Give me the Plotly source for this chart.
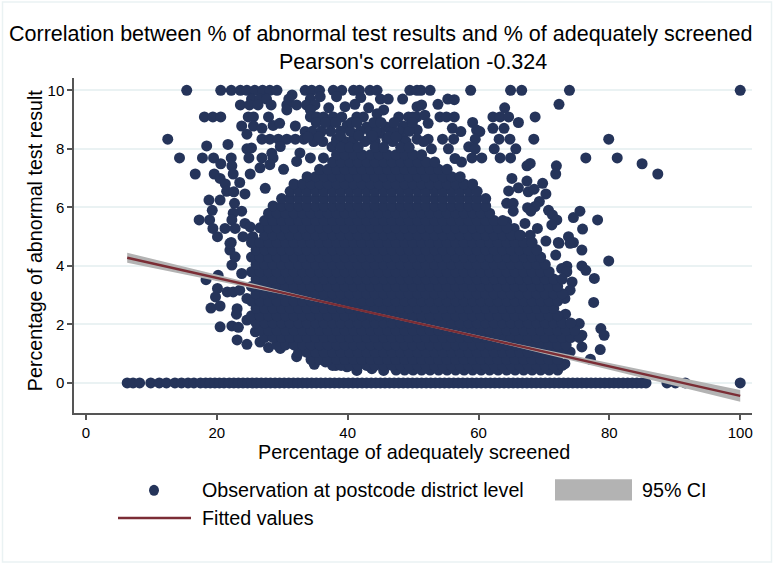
import plotly.graph_objects as go

# Points (x = % adequately screened)
zero_x = [6.3,7.2,8.2,9.9,11.2,12.3,13.6,14.6,15.6,16.5,17.5,18.3,19.0,19.7,20.4,21.1,21.9,22.6,23.3,24.0,24.7,25.4,26.1,26.8,27.5,28.2,28.9,29.6,30.3,31.0,31.7,32.4,33.1,33.8,34.5,35.2,35.9,36.6,37.3,38.0,38.7,39.4,40.1,40.8,41.5,42.2,42.9,43.6,44.3,45.0,45.7,46.4,47.1,47.8,48.5,49.2,49.9,50.6,51.3,52.0,52.7,53.4,54.1,54.8,55.5,56.2,56.9,57.6,58.3,59.0,59.7,60.4,61.1,61.8,62.5,63.2,63.9,64.6,65.3,66.0,66.7,67.4,68.1,68.8,69.5,70.2,70.9,71.6,72.3,73.0,73.7,74.4,75.1,75.8,76.5,77.2,77.9,78.6,79.3,80.0,80.7,81.4,82.1,82.8,83.5,84.2,84.9,85.6,88.8,90.1,91.6,100.0]
top_x = [15.4,20.6,22.2,23.6,24.6,25.8,27.0,28.1,29.2,33.5,34.5,35.7,37.8,39.1,40.9,41.8,43.4,44.5,49.5,50.6,51.2,52.6,58.8,64.9,66.6,73.9,100.0]

sparse_x = [12.5,18.1,19.4,20.6,18.45,21.7,14.3,17.8,19.5,22.2,20.6,16.7,19.6,22.3,22.5,25.1,20.5,21.3,23.5,21.5,22.6,24.3,18.8,20.5,22.7,19.3,23.8,22.5,17.3,18.9,22.3,19.4,21.25,22.8,24.3,25.1,20.1,22.2,24.0,25.5,
 31.5,31.0,25.3,26.6,27.6,34.3,35.8,38.3,42.0,45.0,46.2,48.4,23.6,25.0,26.3,28.3,30.7,32.2,33.7,35.0,39.6,41.1,30.7,37.1,34.3,43.2,45.5,44.5,
 24.8,25.6,27.9,34.3,35.3,36.3,37.8,39.1,41.4,42.4,47.8,49.3,50.6,23.8,25.6,26.9,28.6,29.6,32.0,33.5,37.3,39.9,42.9,45.9,48.5,24.6,45.0,48.0,50.6,
 26.9,28.1,29.4,30.7,32.0,33.3,35.3,38.3,40.9,43.4,46.0,48.5,50.6,24.6,25.3,29.7,28.4,32.7,37.6,38.3,24.9,26.9,28.6,34.3,36.3,26.6,28.1,30.2,32.2,27.4,
 53.8,55.3,56.3,72.3,50.6,51.3,64.0,68.65,54.1,55.1,56.3,62.2,63.3,64.6,50.0,51.8,66.1,59.1,52.3,62.2,63.9,56.0,57.3,59.7,60.2,63.15,64.8,68.45,79.9,54.5,56.2,59.5,50.6,52.3,
 62.4,65.7,55.4,58.5,59.5,63.3,64.9,76.4,81.2,59.0,60.5,56.4,57.4,85.0,87.4,67.4,67.9,71.9,71.8,65.1,67.4,69.8,64.6,66.1,67.6,68.5,70.3,64.3,65.3,69.3,68.65,65.3,67.5,68.0,70.7,75.5,74.5,71.3,71.97,71.2,78.2,75.9,67.1,65.45,69.0,73.75,72.2,70.3,74.5,67.9,66.4,64.3,
 79.9,75.8,74.0,72.3,71.8,75.8,76.4,77.7,73.5,72.7,73.5,74.3,74.0,73.2,77.6,73.3,75.4,78.7,79.2,75.8,75.8,78.6,77.1,74.0,73.2,
 20.2,18.35,20.1,19.8,19.1,20.5,21.6,22.5,23.5,22.3,22.0,22.0,22.8,23.8,20.5,22.3,23.3,23.1,24.6,23.1,23.0,24.6,24.6,25.9,26.6,27.9,29.7,32.2,34.9,36.6,38.2,39.9,41.4,43.7,45.5,
 34.6,36.0,37.4,38.9,40.4,41.9,43.4,44.4,46.6,47.0,49.4,35.2,36.6,38.2,40.6,41.4,44.0,45.1,47.1,49.9,34.8,36.2,39.6,40.8,42.6,44.2,46.9,48.9,51.6,33.9,35.6,38.9,41.7,43.8,46.3,47.4,52.8]
sparse_y = [8.33,9.09,9.09,9.09,8.1,8.15,7.69,7.69,7.69,7.69,7.49,7.14,7.14,7.42,7.14,7.14,6.99,6.8,6.85,6.55,6.53,6.46,6.25,6.25,6.14,5.9,5.87,5.8,5.57,5.57,5.57,5.28,5.28,5.28,5.45,5.33,5.0,4.8,5.0,5.0,
 9.84,9.7,9.7,9.7,9.7,9.7,9.78,9.78,9.75,9.7,9.7,9.7,9.5,9.5,9.5,9.5,9.5,9.5,9.5,9.5,9.44,9.52,9.33,9.4,9.33,9.4,9.33,9.2,
 9.09,9.09,9.09,9.09,9.09,9.09,9.09,9.09,9.09,9.09,9.09,9.09,9.09,8.78,8.78,8.7,8.8,8.87,8.78,8.59,8.9,8.8,8.75,8.75,8.78,8.5,8.53,8.58,8.64,
 8.33,8.33,8.33,8.33,8.33,8.33,8.33,8.33,8.33,8.33,8.33,8.33,8.33,8.0,8.03,8.08,7.85,7.86,8.07,8.24,7.69,7.69,7.69,7.69,7.69,7.35,7.46,7.3,7.57,6.65,
 9.52,9.7,9.68,9.52,9.44,9.5,9.4,9.09,9.09,9.09,9.09,9.09,9.09,9.09,9.09,9.15,8.9,8.9,8.87,8.7,8.7,8.7,8.59,8.64,8.59,8.33,8.33,8.33,8.33,8.33,8.33,8.33,8.64,8.33,
 8.0,8.0,8.0,8.07,8.0,7.69,7.69,7.69,7.69,7.69,7.69,7.67,7.55,7.49,7.14,7.42,7.5,7.42,7.14,6.99,6.9,6.82,6.56,6.67,6.53,6.62,6.46,6.14,6.14,6.2,6.03,5.87,5.99,5.87,5.9,5.87,5.65,5.74,5.57,5.4,5.57,5.26,5.45,5.28,5.28,5.0,4.8,4.85,4.8,5.05,5.05,5.5,
 4.17,4.54,4.77,4.77,4.37,4.0,3.85,3.57,3.99,3.91,3.8,3.45,3.17,2.89,2.75,2.35,2.03,1.86,1.63,1.63,1.23,1.14,0.81,1.06,0.66,
 3.68,3.53,3.23,2.94,2.56,2.63,3.11,3.11,3.17,4.03,4.54,4.77,4.31,3.74,1.92,1.95,1.9,1.47,1.32,2.54,2.35,2.15,2.89,1.75,1.4,1.21,1.18,0.9,0.64,0.72,0.6,0.55,0.43,0.49,0.43,
 8.6,8.6,8.6,8.6,8.6,8.6,8.6,8.6,8.6,8.6,8.6,8.9,8.9,8.9,8.9,8.9,8.9,8.9,8.9,8.9,8.25,8.25,8.25,8.25,8.25,8.25,8.25,8.25,8.25,8.4,8.4,8.45,8.45,8.45,8.4,8.4,8.0]

# Dense cloud, one list per abnormal-result level
cloud_044 = [47.4,48.7,50.0,51.3,52.6,53.9,55.2,56.5,57.8,59.1,60.4,61.7,63.0,64.3,65.6,66.9,68.2,69.5,70.8,72.1]
cloud_060 = [37.7,39.0,40.3,41.6,42.9,44.2,45.5,46.8,48.1,49.4,50.7,52.0,53.3,54.6,55.9,57.2,58.5,59.8,61.1,62.4,63.7,65.0,66.3,67.6,68.9,70.2,71.5,72.8]
cloud_080 = [34.4,35.7,37.0,38.3,39.6,40.9,42.2,43.5,44.8,46.1,47.4,48.7,50.0,51.3,52.6,53.9,55.2,56.5,57.8,59.1,60.4,61.7,63.0,64.3,65.6,66.9,68.2,69.5,70.8,72.1]
cloud_105 = [32.5,33.8,35.1,36.4,37.7,39.0,40.3,41.6,42.9,44.2,45.5,46.8,48.1,49.4,50.7,52.0,53.3,54.6,55.9,57.2,58.5,59.8,61.1,62.4,63.7,65.0,66.3,67.6,68.9,70.2,71.5,72.8]
cloud_130 = [29.2,30.5,31.8,33.1,34.4,35.7,37.0,38.3,39.6,40.9,42.2,43.5,44.8,46.1,47.4,48.7,50.0,51.3,52.6,53.9,55.2,56.5,57.8,59.1,60.4,61.7,63.0,64.3,65.6,66.9,68.2,69.5,70.8,72.1,73.4]
cloud_155 = [27.3,28.6,29.9,31.2,32.5,33.8,35.1,36.4,37.7,39.0,40.3,41.6,42.9,44.2,45.5,46.8,48.1,49.4,50.7,52.0,53.3,54.6,55.9,57.2,58.5,59.8,61.1,62.4,63.7,65.0,66.3,67.6,68.9,70.2,71.5,72.8,74.1,75.4]
cloud_180 = [26.6,27.9,29.2,30.5,31.8,33.1,34.4,35.7,37.0,38.3,39.6,40.9,42.2,43.5,44.8,46.1,47.4,48.7,50.0,51.3,52.6,53.9,55.2,56.5,57.8,59.1,60.4,61.7,63.0,64.3,65.6,66.9,68.2,69.5,70.8,72.1,73.4,74.7]
cloud_205 = [26.0,27.3,28.6,29.9,31.2,32.5,33.8,35.1,36.4,37.7,39.0,40.3,41.6,42.9,44.2,45.5,46.8,48.1,49.4,50.7,52.0,53.3,54.6,55.9,57.2,58.5,59.8,61.1,62.4,63.7,65.0,66.3,67.6,68.9,70.2,71.5,72.8,74.1]
cloud_230 = [25.3,26.6,27.9,29.2,30.5,31.8,33.1,34.4,35.7,37.0,38.3,39.6,40.9,42.2,43.5,44.8,46.1,47.4,48.7,50.0,51.3,52.6,53.9,55.2,56.5,57.8,59.1,60.4,61.7,63.0,64.3,65.6,66.9,68.2,69.5,70.8,72.1]
cloud_255 = [26.0,27.3,28.6,29.9,31.2,32.5,33.8,35.1,36.4,37.7,39.0,40.3,41.6,42.9,44.2,45.5,46.8,48.1,49.4,50.7,52.0,53.3,54.6,55.9,57.2,58.5,59.8,61.1,62.4,63.7,65.0,66.3,67.6,68.9,70.2,71.5]
cloud_280 = [25.3,26.6,27.9,29.2,30.5,31.8,33.1,34.4,35.7,37.0,38.3,39.6,40.9,42.2,43.5,44.8,46.1,47.4,48.7,50.0,51.3,52.6,53.9,55.2,56.5,57.8,59.1,60.4,61.7,63.0,64.3,65.6,66.9,68.2,69.5,70.8,72.1]
cloud_305 = [26.0,27.3,28.6,29.9,31.2,32.5,33.8,35.1,36.4,37.7,39.0,40.3,41.6,42.9,44.2,45.5,46.8,48.1,49.4,50.7,52.0,53.3,54.6,55.9,57.2,58.5,59.8,61.1,62.4,63.7,65.0,66.3,67.6,68.9,70.2,71.5,72.8]
cloud_330 = [25.3,26.6,27.9,29.2,30.5,31.8,33.1,34.4,35.7,37.0,38.3,39.6,40.9,42.2,43.5,44.8,46.1,47.4,48.7,50.0,51.3,52.6,53.9,55.2,56.5,57.8,59.1,60.4,61.7,63.0,64.3,65.6,66.9,68.2,69.5,70.8,72.1]
cloud_355 = [26.0,27.3,28.6,29.9,31.2,32.5,33.8,35.1,36.4,37.7,39.0,40.3,41.6,42.9,44.2,45.5,46.8,48.1,49.4,50.7,52.0,53.3,54.6,55.9,57.2,58.5,59.8,61.1,62.4,63.7,65.0,66.3,67.6,68.9,70.2,71.5,72.8]
cloud_380 = [25.3,26.6,27.9,29.2,30.5,31.8,33.1,34.4,35.7,37.0,38.3,39.6,40.9,42.2,43.5,44.8,46.1,47.4,48.7,50.0,51.3,52.6,53.9,55.2,56.5,57.8,59.1,60.4,61.7,63.0,64.3,65.6,66.9,68.2,69.5,70.8]
cloud_405 = [26.0,27.3,28.6,29.9,31.2,32.5,33.8,35.1,36.4,37.7,39.0,40.3,41.6,42.9,44.2,45.5,46.8,48.1,49.4,50.7,52.0,53.3,54.6,55.9,57.2,58.5,59.8,61.1,62.4,63.7,65.0,66.3,67.6,68.9,70.2]
cloud_430 = [25.3,26.6,27.9,29.2,30.5,31.8,33.1,34.4,35.7,37.0,38.3,39.6,40.9,42.2,43.5,44.8,46.1,47.4,48.7,50.0,51.3,52.6,53.9,55.2,56.5,57.8,59.1,60.4,61.7,63.0,64.3,65.6,66.9,68.2,69.5]
cloud_455 = [26.0,27.3,28.6,29.9,31.2,32.5,33.8,35.1,36.4,37.7,39.0,40.3,41.6,42.9,44.2,45.5,46.8,48.1,49.4,50.7,52.0,53.3,54.6,55.9,57.2,58.5,59.8,61.1,62.4,63.7,65.0,66.3,67.6,68.9]
cloud_480 = [25.3,26.6,27.9,29.2,30.5,31.8,33.1,34.4,35.7,37.0,38.3,39.6,40.9,42.2,43.5,44.8,46.1,47.4,48.7,50.0,51.3,52.6,53.9,55.2,56.5,57.8,59.1,60.4,61.7,63.0,64.3,65.6,66.9,68.2]
cloud_505 = [27.3,28.6,29.9,31.2,32.5,33.8,35.1,36.4,37.7,39.0,40.3,41.6,42.9,44.2,45.5,46.8,48.1,49.4,50.7,52.0,53.3,54.6,55.9,57.2,58.5,59.8,61.1,62.4,63.7,65.0,66.3]
cloud_530 = [26.6,27.9,29.2,30.5,31.8,33.1,34.4,35.7,37.0,38.3,39.6,40.9,42.2,43.5,44.8,46.1,47.4,48.7,50.0,51.3,52.6,53.9,55.2,56.5,57.8,59.1,60.4,61.7,63.0,64.3]
cloud_555 = [27.3,28.6,29.9,31.2,32.5,33.8,35.1,36.4,37.7,39.0,40.3,41.6,42.9,44.2,45.5,46.8,48.1,49.4,50.7,52.0,53.3,54.6,55.9,57.2,58.5,59.8,61.1,62.4,63.7]
cloud_580 = [27.9,29.2,30.5,31.8,33.1,34.4,35.7,37.0,38.3,39.6,40.9,42.2,43.5,44.8,46.1,47.4,48.7,50.0,51.3,52.6,53.9,55.2,56.5,57.8,59.1,60.4,61.7]
cloud_605 = [28.6,29.9,31.2,32.5,33.8,35.1,36.4,37.7,39.0,40.3,41.6,42.9,44.2,45.5,46.8,48.1,49.4,50.7,52.0,53.3,54.6,55.9,57.2,58.5,59.8,61.1]
cloud_630 = [29.9,31.2,32.5,33.8,35.1,36.4,37.7,39.0,40.3,41.6,42.9,44.2,45.5,46.8,48.1,49.4,50.7,52.0,53.3,54.6,55.9,57.2,58.5,59.8,61.1]
cloud_655 = [31.2,32.5,33.8,35.1,36.4,37.7,39.0,40.3,41.6,42.9,44.2,45.5,46.8,48.1,49.4,50.7,52.0,53.3,54.6,55.9,57.2,58.5,59.8]
cloud_680 = [31.8,33.1,34.4,35.7,37.0,38.3,39.6,40.9,42.2,43.5,44.8,46.1,47.4,48.7,50.0,51.3,52.6,53.9,55.2,56.5,57.8,59.1]
cloud_705 = [33.8,35.1,36.4,37.7,39.0,40.3,41.6,42.9,44.2,45.5,46.8,48.1,49.4,50.7,52.0,53.3,54.6,55.9,57.2]
cloud_730 = [35.7,37.0,38.3,39.6,40.9,42.2,43.5,44.8,46.1,47.4,48.7,50.0,51.3,52.6,53.9,55.2]
cloud_755 = [37.7,39.0,40.3,41.6,42.9,44.2,45.5,46.8,48.1,49.4,50.7,52.0,53.3]
cloud_780 = [38.3,39.6,40.9,42.2,43.5,44.8,46.1,47.4,48.7,50.0,51.3]
cloud_805 = [39.0,40.3,41.6,44.2,45.5,48.1,49.4]

cloud_rows = [(0.44,cloud_044),(0.60,cloud_060),(0.80,cloud_080),(1.05,cloud_105),(1.30,cloud_130),(1.55,cloud_155),(1.80,cloud_180),(2.05,cloud_205),(2.30,cloud_230),(2.55,cloud_255),(2.80,cloud_280),(3.05,cloud_305),(3.30,cloud_330),(3.55,cloud_355),(3.80,cloud_380),(4.05,cloud_405),(4.30,cloud_430),(4.55,cloud_455),(4.80,cloud_480),(5.05,cloud_505),(5.30,cloud_530),(5.55,cloud_555),(5.80,cloud_580),(6.05,cloud_605),(6.30,cloud_630),(6.55,cloud_655),(6.80,cloud_680),(7.05,cloud_705),(7.30,cloud_730),(7.55,cloud_755),(7.80,cloud_780),(8.05,cloud_805)]

fit_x = [6.3,20,30,40,50,60,70,80,90,100]
fit_y = [4.28,3.59,3.09,2.58,2.08,1.58,1.07,0.57,0.07,-0.44]
ci_half = [0.17,0.10,0.06,0.03,0.03,0.04,0.07,0.11,0.16,0.20]

x_ticks = [0,20,40,60,80,100]
y_ticks = [0,2,4,6,8,10]

NAVY = "#25345a"; GRID = "#eaf2f3"; BAND = "#b3b3b3"; MAROON = "#7b2d35"; AXIS = "#555555"
FONT = "Liberation Sans"

obs_x = list(zero_x) + list(top_x) + list(sparse_x)
obs_y = [0]*len(zero_x) + [10]*len(top_x) + list(sparse_y)
for level, xs in cloud_rows:
    obs_x += xs
    obs_y += [level]*len(xs)

fig = go.Figure()
fig.add_trace(go.Scatter(x=obs_x, y=obs_y, mode="markers", name="Observation at postcode district level",
                         marker=dict(size=11, color=NAVY, line=dict(width=0)), showlegend=False))
fig.add_trace(go.Scatter(x=fit_x, y=[a+b for a,b in zip(fit_y,ci_half)], mode="lines", line=dict(width=0), showlegend=False))
fig.add_trace(go.Scatter(x=fit_x, y=[a-b for a,b in zip(fit_y,ci_half)], mode="lines", line=dict(width=0),
                         fill="tonexty", fillcolor=BAND, name="95% CI", showlegend=False))
fig.add_trace(go.Scatter(x=fit_x, y=fit_y, mode="lines", line=dict(color=MAROON, width=2.5), name="Fitted values", showlegend=False))

W, H = 774, 564
L, R, T, B = 74, 752, 78, 412.7
def px(x): return (x-L)/(R-L)
def py(y): return (B-y)/(B-T)

def text(x, y, s, size, anchor="left", angle=0):
    fig.add_annotation(x=px(x), y=py(y), xref="paper", yref="paper", text=s, showarrow=False, textangle=angle,
                       xanchor=anchor, yanchor="middle", font=dict(family=FONT, size=size, color="black"))

text(380.5, 34, "Correlation between % of abnormal test results and % of adequately screened", 21.5, "center")
text(413, 62, "Pearson's correlation -0.324", 21.5, "center")
text(414.5, 452, "Percentage of adequately screened", 19.8, "center")
text(35, 241, "Percentage of abnormal test result", 19.7, "center", -90)
text(200, 490, "Observation at postcode district level", 19.7)
text(640, 490, "95% CI", 19.7)
text(200, 518, "Fitted values", 19.7)

shapes = [
    dict(type="rect", xref="paper", yref="paper", x0=px(2.5), x1=px(771.5), y0=py(561.5), y1=py(2), line=dict(color=GRID, width=1.5), layer="below"),
    dict(type="circle", xref="paper", yref="paper", x0=px(149), x1=px(159), y0=py(495.5), y1=py(484.5), fillcolor=NAVY, line=dict(width=0)),
    dict(type="rect", xref="paper", yref="paper", x0=px(555), x1=px(632), y0=py(500), y1=py(479), fillcolor=BAND, line=dict(width=0)),
    dict(type="line", xref="paper", yref="paper", x0=px(118), x1=px(191), y0=py(517.5), y1=py(517.5), line=dict(color=MAROON, width=2.5)),
]

fig.update_layout(
    width=W, height=H, autosize=False, paper_bgcolor="white", plot_bgcolor="white",
    margin=dict(l=L, r=W-R, t=T, b=H-B, pad=0), showlegend=False, shapes=shapes,
    font=dict(family=FONT, color="black"),
    xaxis=dict(range=[-1.83,101.8], tickvals=x_ticks, ticks="outside", ticklen=5, tickcolor=AXIS, tickwidth=1.5,
               showgrid=False, zeroline=False, showline=True, linecolor=AXIS, linewidth=1.5, tickfont=dict(size=15), automargin=False),
    yaxis=dict(range=[-1.026,10.42], tickvals=y_ticks, ticks="outside", ticklen=5, tickcolor=AXIS, tickwidth=1.5,
               showgrid=True, gridcolor=GRID, gridwidth=1.5, zeroline=False, showline=True, linecolor=AXIS, linewidth=1.5, tickfont=dict(size=15), automargin=False),
)
fig.write_html("out.html", config=dict(displayModeBar=False), post_script="document.body.style.margin='0';")
